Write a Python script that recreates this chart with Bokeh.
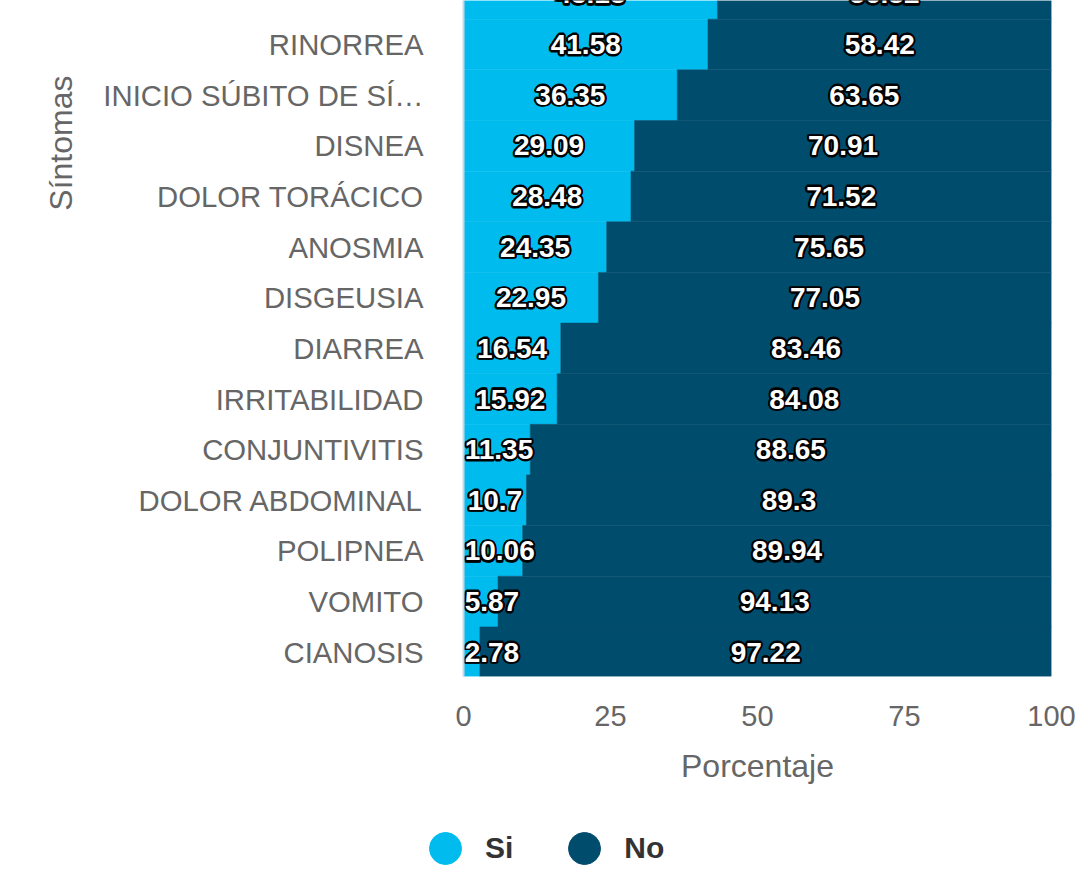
import math
from bokeh.plotting import figure
from bokeh.layouts import column
from bokeh.models import ColumnDataSource, Range1d, FixedTicker, Legend, LegendItem, Title
from bokeh.core.properties import value
from bokeh.embed import file_html
from bokeh.resources import INLINE

# ---- data (bottom to top) ----
sintomas = ["CIANOSIS", "VOMITO", "POLIPNEA", "DOLOR ABDOMINAL", "CONJUNTIVITIS",
            "IRRITABILIDAD", "DIARREA", "DISGEUSIA", "ANOSMIA", "DOLOR TORÁCICO",
            "DISNEA", "INICIO SÚBITO DE SÍ…", "RINORREA", "ESCALOFRIOS"]
si = [2.78, 5.87, 10.06, 10.7, 11.35, 15.92, 16.54, 22.95, 24.35, 28.48, 29.09, 36.35, 41.58, 43.18]
no = [97.22, 94.13, 89.94, 89.3, 88.65, 84.08, 83.46, 77.05, 75.65, 71.52, 70.91, 63.65, 58.42, 56.82]
x_ticks = [0, 25, 50, 75, 100]
series_names = ["Si", "No"]
y_title = "Síntomas"
x_title = "Porcentaje"

SI_COLOR = "#00bcee"
NO_COLOR = "#004c6d"
FONT = "Liberation Sans"
GREY = "#666666"

W, H = 1085, 800
LEFT, RIGHT, TOP = 463, 34, 0
FRAME_H = 676
FRAME_W = W - LEFT - RIGHT
BOTTOM = H - FRAME_H - TOP
Y0, Y1 = -0.48, 12.87
px_per_unit = FRAME_W / 100.0

p = figure(width=W, height=H, output_backend="svg", toolbar_location=None,
           x_range=Range1d(0, 100), y_range=Range1d(Y0, Y1),
           min_border_left=LEFT, min_border_right=RIGHT, min_border_top=TOP,
           min_border_bottom=BOTTOM)
p.outline_line_color = None
p.background_fill_color = "white"

idx = list(range(len(sintomas)))
stack_end = [a + b for a, b in zip(si, no)]
src = ColumnDataSource(dict(y=idx, si=si, no=no, end=stack_end))

p.hbar(y="y", left=0, right="si", height=1.0, source=src,
       fill_color=SI_COLOR, line_color=SI_COLOR, line_width=0.5)
p.hbar(y="y", left="si", right="end", height=1.0, source=src,
       fill_color=NO_COLOR, line_color=NO_COLOR, line_width=0.5)

# ---- data labels ----
LBL_PX = 28

def est_w(s):
    w = 0.0
    for ch in s:
        w += 0.278 if ch == "." else 0.556
    return w * LBL_PX / px_per_unit + 0.6

c_x, c_y, c_t = [], [], []
l_x, l_y, l_t = [], [], []
for i, v in enumerate(si):
    t = str(v)
    if v / 2 - est_w(t) / 2 < 0:
        l_x.append(0.2); l_y.append(i); l_t.append(t)
    else:
        c_x.append(v / 2); c_y.append(i); c_t.append(t)
for i, (a, b) in enumerate(zip(si, no)):
    c_x.append(a + b / 2); c_y.append(i); c_t.append(str(b))

lab_kw = dict(text_font=value(FONT), text_font_size=f"{LBL_PX}px", text_font_style="bold",
              text_baseline="middle")
csrc = ColumnDataSource(dict(x=c_x, y=c_y, t=c_t))
lsrc = ColumnDataSource(dict(x=l_x, y=l_y, t=l_t))
R = 1.6
offsets = [(R, 0), (-R, 0), (0, R), (0, -R), (R * 0.7, R * 0.7), (-R * 0.7, R * 0.7),
           (R * 0.7, -R * 0.7), (-R * 0.7, -R * 0.7)]
for dx, dy in offsets:
    for s, al in ((csrc, "center"), (lsrc, "left")):
        p.text(x="x", y="y", text="t", source=s, text_align=al, x_offset=dx, y_offset=dy,
               text_color="black", text_outline_color="black", **lab_kw)
for s, al in ((csrc, "center"), (lsrc, "left")):
    p.text(x="x", y="y", text="t", source=s, text_align=al,
           text_color="white", **lab_kw)

# ---- axes ----
p.yaxis.ticker = FixedTicker(ticks=idx)
p.yaxis.major_label_overrides = {i: s for i, s in enumerate(sintomas)}
p.yaxis.major_tick_line_color = None
p.yaxis.minor_tick_line_color = None
p.yaxis.major_tick_out = 0
p.yaxis.major_tick_in = 0
p.yaxis.major_label_standoff = 40
p.yaxis.axis_line_color = "#ccd6eb"
p.yaxis.axis_line_width = 2
p.yaxis.major_label_text_font = FONT
p.yaxis.major_label_text_font_size = "29.3px"
p.yaxis.major_label_text_color = GREY

p.xaxis.ticker = FixedTicker(ticks=x_ticks)
p.xaxis.major_tick_line_color = None
p.xaxis.minor_tick_line_color = None
p.xaxis.major_tick_out = 0
p.xaxis.major_tick_in = 0
p.xaxis.axis_line_color = None
p.xaxis.major_label_standoff = 29
p.xaxis.major_label_text_font = FONT
p.xaxis.major_label_text_font_size = "29px"
p.xaxis.major_label_text_color = GREY
p.xaxis.axis_label = x_title
p.xaxis.axis_label_text_font = FONT
p.xaxis.axis_label_text_font_size = "32px"
p.xaxis.axis_label_text_font_style = "normal"
p.xaxis.axis_label_text_color = GREY
p.xaxis.axis_label_standoff = 19

p.xgrid.ticker = FixedTicker(ticks=x_ticks)
p.xgrid.grid_line_color = "#e6e6e6"
p.ygrid.grid_line_color = None

# y axis title, centred on the full (partly hidden) plot area
p.add_layout(Title(text=y_title, align="right", offset=75, standoff=43,
                   text_font=FONT, text_font_size="32px", text_font_style="normal",
                   text_color=GREY), "left")

# ---- legend (separate strip below) ----
H2 = 90
lg = figure(width=W, height=H2, output_backend="svg", toolbar_location=None,
            min_border_left=0, min_border_right=0, min_border_top=0, min_border_bottom=0,
            x_range=Range1d(-2, -1), y_range=Range1d(-2, -1))
lg.frame_align = False
lg.axis.visible = False
lg.grid.visible = False
lg.outline_line_color = None
# series markers (kept outside this strip's visible range; used only by the legend)
r_si = lg.scatter(x="si", y="y", source=src, marker="circle", color=SI_COLOR)
r_no = lg.scatter(x="no", y="y", source=src, marker="circle", color=NO_COLOR)
legend = Legend(items=[LegendItem(label=series_names[0], renderers=[r_si]),
                       LegendItem(label=series_names[1], renderers=[r_no])],
                orientation="horizontal", location=(405, 2),
                glyph_width=80, glyph_height=80, label_standoff=0, spacing=31,
                padding=0, margin=0, border_line_color=None, background_fill_alpha=0,
                label_text_font=FONT, label_text_font_size="30px",
                label_text_font_style="bold", label_text_color="#333333")
lg.add_layout(legend)

layout = column(p, lg, spacing=0)
open("out.html", "w").write(file_html(layout, INLINE))
